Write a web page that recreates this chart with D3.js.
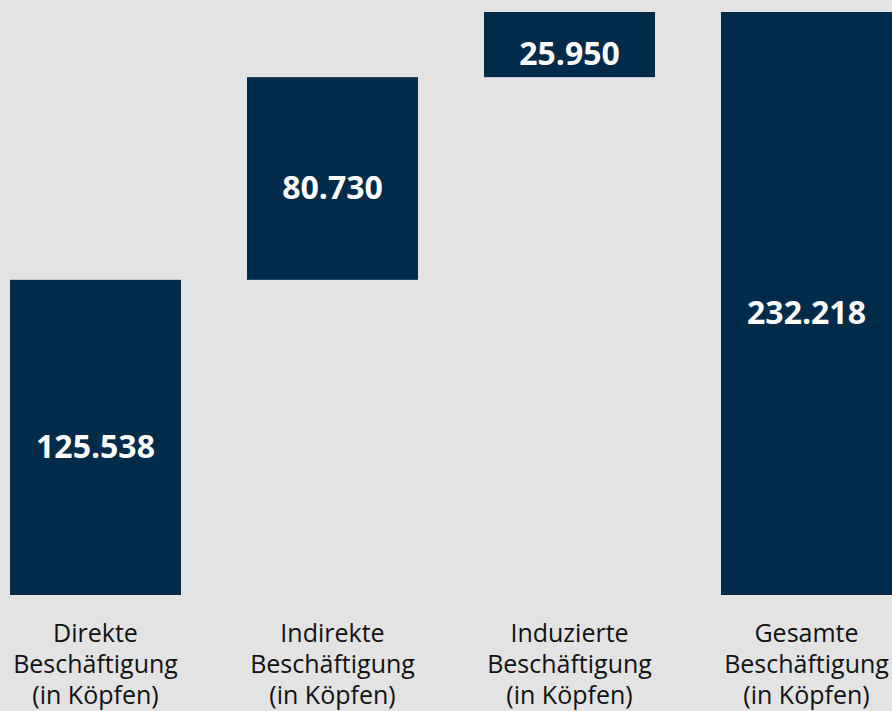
<!DOCTYPE html>
<html>
<head>
<meta charset="utf-8">
<script src="https://cdn.jsdelivr.net/npm/d3@7"></script>
<style>
  html, body { margin: 0; padding: 0; background: #e3e3e3; overflow: hidden; }
  svg { display: block; }
</style>
</head>
<body>
<div id="chart"></div>
<script>
// waterfall: direct + indirect + induced = total
const categories = [
	["Direkte", "Beschäftigung", "(in Köpfen)"],
	["Indirekte", "Beschäftigung", "(in Köpfen)"],
	["Induzierte", "Beschäftigung", "(in Köpfen)"],
	["Gesamte", "Beschäftigung", "(in Köpfen)"],
];
const values = [125538, 80730, 25950, 232218];
const valueLabels = ["125.538", "80.730", "25.950", "232.218"];
const isTotal = [false, false, false, true];

const width = 892,
	height = 711;

const svg = d3.select("#chart").append("svg").attr("width", width).attr("height", height);

svg.append("rect").attr("width", width).attr("height", height).attr("fill", "#e3e3e3");

// running start/end for each step
let acc = 0;
const bars = values.map((v, i) => {
	if (isTotal[i]) return { i, y0: 0, y1: v };
	const b = { i, y0: acc, y1: acc + v };
	acc += v;
	return b;
});

const x = d3
	.scaleBand()
	.domain(d3.range(categories.length))
	.range([10, 892])
	.paddingInner(66 / 237)
	.paddingOuter(0);

const y = d3.scaleLinear().domain([0, d3.max(values)]).range([595, 12]);

const g = svg.append("g");

g.selectAll("rect.bar")
	.data(bars)
	.enter()
	.append("rect")
	.attr("class", "bar")
	.attr("x", (d) => x(d.i))
	.attr("width", x.bandwidth())
	.attr("y", (d) => y(d.y1))
	.attr("height", (d) => y(d.y0) - y(d.y1))
	.attr("fill", "#002b4a");

g.selectAll("text.val")
	.data(bars)
	.enter()
	.append("text")
	.attr("class", "val")
	.attr("x", (d) => x(d.i) + x.bandwidth() / 2)
	.attr("y", (d) => (y(d.y0) + y(d.y1)) / 2 + 12)
	.attr("text-anchor", "middle")
	.attr("dominant-baseline", "middle")
	.attr("fill", "#ffffff")
	.style("font-family", "'Open Sans', sans-serif")
	.style("font-weight", "bold")
	.style("font-size", "32px")
	.text((d) => valueLabels[d.i]);

const cat = g
	.selectAll("text.cat")
	.data(categories)
	.enter()
	.append("text")
	.attr("class", "cat")
	.attr("x", (d, i) => x(i) + x.bandwidth() / 2)
	.attr("y", 642)
	.attr("text-anchor", "middle")
	.attr("fill", "#111111")
	.style("font-family", "'Open Sans', sans-serif")
	.style("font-size", "25px");

cat.selectAll("tspan")
	.data((d) => d)
	.enter()
	.append("tspan")
	.attr("x", function () {
		return this.parentNode.getAttribute("x");
	})
	.attr("dy", (d, j) => (j === 0 ? 0 : 31))
	.text((d) => d);
</script>
</body>
</html>
